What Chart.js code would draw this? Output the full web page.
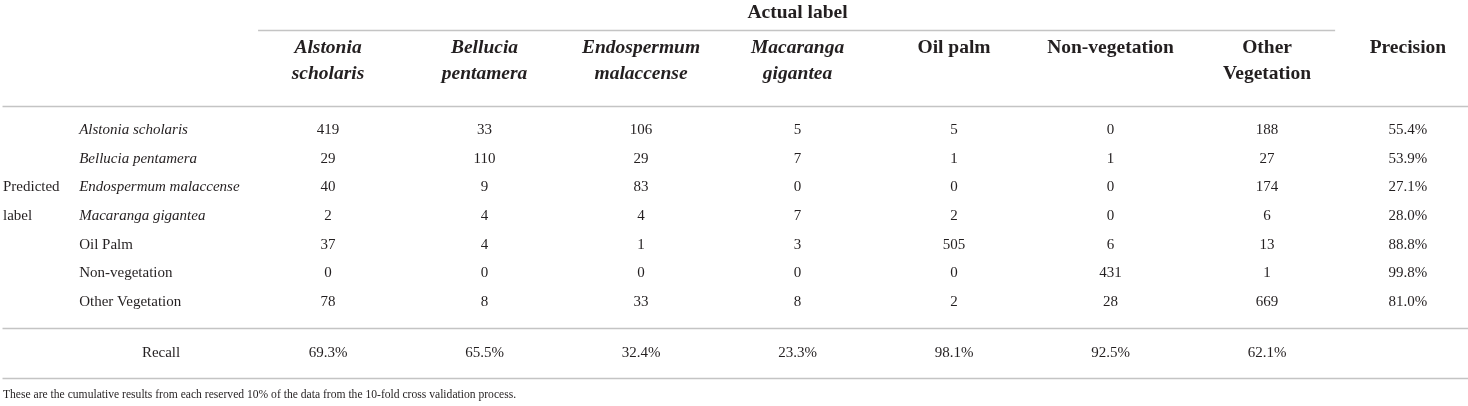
<!DOCTYPE html>
<html>
<head>
<meta charset="utf-8">
<script src="https://cdn.jsdelivr.net/npm/chart.js@4"></script>
<style>
  html, body { margin: 0; padding: 0; background: #ffffff; }
  canvas { display: block; }
</style>
</head>
<body>
<canvas id="confusion" width="1468" height="406"></canvas>
<script>
// actual (columns) and predicted (rows) classes
const actual_labels = [
  ["Alstonia", "scholaris"],
  ["Bellucia", "pentamera"],
  ["Endospermum", "malaccense"],
  ["Macaranga", "gigantea"],
  ["Oil palm"],
  ["Non-vegetation"],
  ["Other", "Vegetation"],
];
const predicted_labels = [
  "Alstonia scholaris",
  "Bellucia pentamera",
  "Endospermum malaccense",
  "Macaranga gigantea",
  "Oil Palm",
  "Non-vegetation",
  "Other Vegetation",
];
const species_count = 4; // first four classes are species names (italic)

// confusion matrix, one row per predicted label
const row_alstonia = [419, 33, 106, 5, 5, 0, 188];
const row_bellucia = [29, 110, 29, 7, 1, 1, 27];
const row_endospermum = [40, 9, 83, 0, 0, 0, 174];
const row_macaranga = [2, 4, 4, 7, 2, 0, 6];
const row_oilpalm = [37, 4, 1, 3, 505, 6, 13];
const row_nonveg = [0, 0, 0, 0, 0, 431, 1];
const row_otherveg = [78, 8, 33, 8, 2, 28, 669];
const matrix = [row_alstonia, row_bellucia, row_endospermum, row_macaranga, row_oilpalm, row_nonveg, row_otherveg];

const precision = [55.4, 53.9, 27.1, 28.0, 88.8, 99.8, 81.0];
const recall = [69.3, 65.5, 32.4, 23.3, 98.1, 92.5, 62.1];

const footnote = "These are the cumulative results from each reserved 10% of the data from the 10-fold cross validation process.";

const SERIF = "'Liberation Serif', 'Times New Roman', serif";
const TEXT_COLOR = "#231f20";
const RULE_COLOR = "#c4c4c4";
const body_font = (italic) => (italic ? "italic " : "") + "15px " + SERIF;
const head_font = (italic) => (italic ? "italic " : "") + "bold 19.5px " + SERIF;

// layout in scale units (column index / row index)
const PRECISION_X = 7.9;
const ROWLABEL_X = -0.59;
const LEFT_X = -1.077;
const RECALL_Y = 7.77;
const HEAD_Y = [-2.86, -1.96];
const rules = [
  { y: -3.48, x0: 0.553, x1: 7.435 },
  { y: -0.836, x0: -1.08, x1: 8.3 },
  { y: 6.9, x0: -1.08, x1: 8.3 },
  { y: 8.64, x0: -1.08, x1: 8.3 },
];

// build point lists
const cell_points = [];
matrix.forEach((row, r) => {
  row.forEach((v, c) => cell_points.push({ x: c + 1, y: r, t: String(v), f: body_font(false) }));
});
const precision_points = precision.map((p, r) => ({ x: PRECISION_X, y: r, t: p.toFixed(1) + "%", f: body_font(false) }));
const recall_points = recall.map((p, c) => ({ x: c + 1, y: RECALL_Y, t: p.toFixed(1) + "%", f: body_font(false) }));
const rowlabel_points = predicted_labels.map((s, r) => ({ x: ROWLABEL_X, y: r, t: s, f: body_font(r < species_count) }));
const header_points = [];
actual_labels.forEach((lines, c) => {
  lines.forEach((s, k) => header_points.push({ x: c + 1, y: HEAD_Y[k], t: s, f: head_font(c < species_count) }));
});
header_points.push({ x: PRECISION_X, y: HEAD_Y[0], t: "Precision", f: head_font(false) });
header_points.push({ x: 4, y: -4.07, t: "Actual label", f: head_font(false) });
const recall_label = [{ x: -0.067, y: RECALL_Y, t: "Recall", f: body_font(false) }];
const left_points = [
  { x: LEFT_X, y: 2, t: "Predicted", f: body_font(false) },
  { x: LEFT_X, y: 3, t: "label", f: body_font(false) },
  { x: LEFT_X, y: 9.23, t: footnote, f: "11.6px " + SERIF },
];

// draws the rules and the text of every point
const tablePlugin = {
  id: "tableText",
  afterDatasetsDraw(chart) {
    const ctx = chart.ctx;
    const xs = chart.scales.x;
    const ys = chart.scales.y;
    ctx.save();
    ctx.strokeStyle = RULE_COLOR;
    ctx.lineWidth = 1.5;
    rules.forEach((r) => {
      const y = Math.round(ys.getPixelForValue(r.y)) + 0.5;
      ctx.beginPath();
      ctx.moveTo(xs.getPixelForValue(r.x0), y);
      ctx.lineTo(xs.getPixelForValue(r.x1), y);
      ctx.stroke();
    });
    ctx.fillStyle = TEXT_COLOR;
    ctx.textBaseline = "middle";
    chart.data.datasets.forEach((ds, i) => {
      const meta = chart.getDatasetMeta(i);
      ctx.textAlign = ds.textAlign || "center";
      meta.data.forEach((el, j) => {
        const p = ds.data[j];
        ctx.font = p.f;
        ctx.fillText(p.t, el.x, el.y);
      });
    });
    ctx.restore();
  },
};

const ds = (label, data, textAlign) => ({ label, data, textAlign, pointRadius: 0, showLine: false });

new Chart(document.getElementById("confusion"), {
  type: "scatter",
  data: {
    datasets: [
      ds("cells", cell_points, "center"),
      ds("precision", precision_points, "center"),
      ds("recall", recall_points, "center"),
      ds("row labels", rowlabel_points, "left"),
      ds("headers", header_points, "center"),
      ds("recall label", recall_label, "center"),
      ds("left text", left_points, "left"),
    ],
  },
  options: {
    responsive: false,
    animation: false,
    events: [],
    layout: { padding: 0 },
    plugins: { legend: { display: false }, tooltip: { enabled: false } },
    scales: {
      x: { type: "linear", display: false, min: -1.096, max: 8.284 },
      y: { type: "linear", display: false, reverse: true, min: -4.53, max: 9.617 },
    },
  },
  plugins: [tablePlugin],
});
</script>
</body>
</html>
